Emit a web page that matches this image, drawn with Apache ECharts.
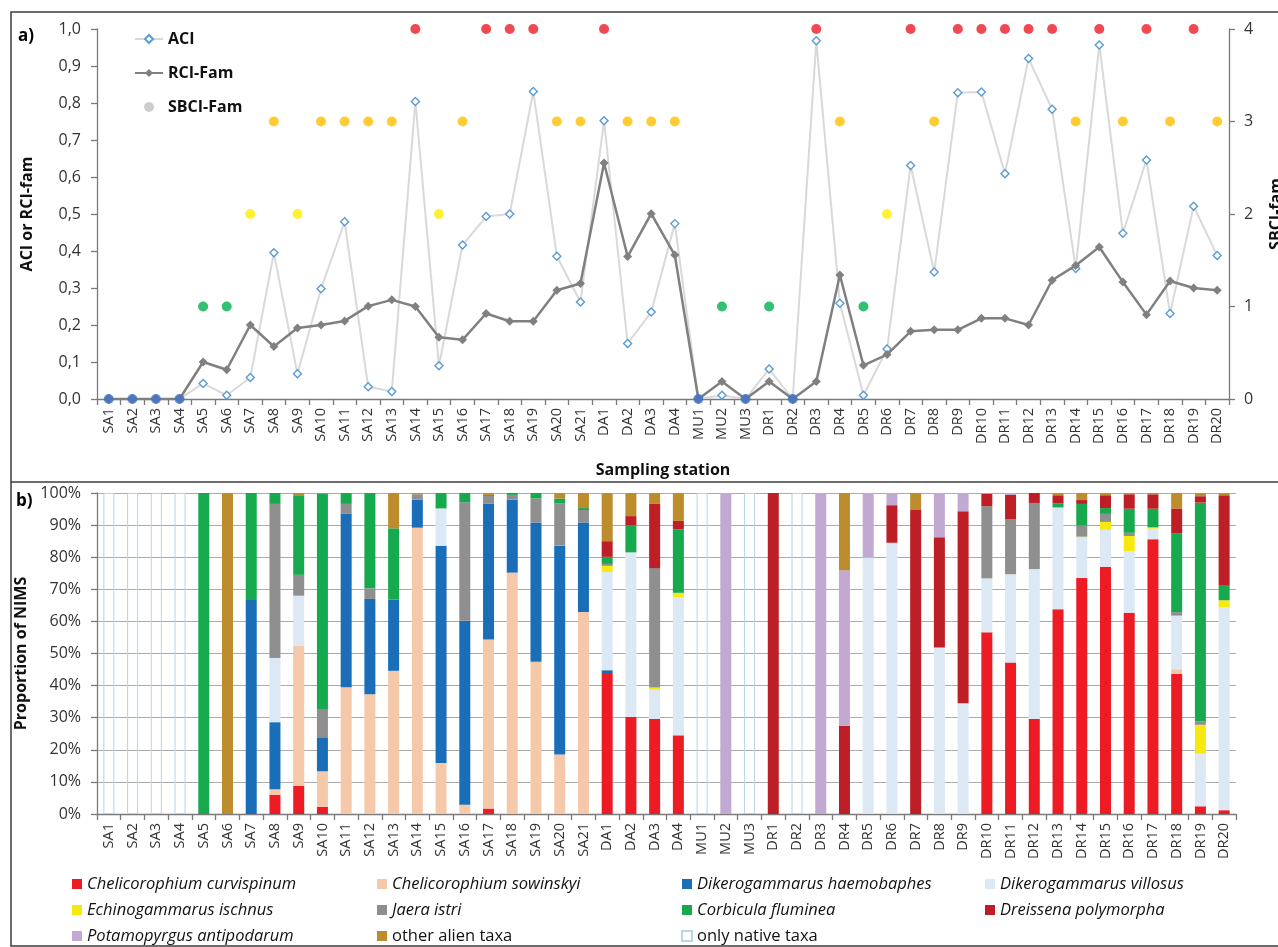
<!DOCTYPE html>
<html>
<head>
<meta charset="utf-8">
<script src="https://cdn.jsdelivr.net/npm/echarts@6/dist/echarts.min.js"></script>
<style>
  html, body { margin: 0; padding: 0; background: #fff; }
  #main { width: 1278px; height: 947px; }
</style>
</head>
<body>
<div id="main"></div>
<script>
var stations = ['SA1','SA2','SA3','SA4','SA5','SA6','SA7','SA8','SA9','SA10',
  'SA11','SA12','SA13','SA14','SA15','SA16','SA17','SA18','SA19','SA20',
  'SA21','DA1','DA2','DA3','DA4','MU1','MU2','MU3','DR1','DR2',
  'DR3','DR4','DR5','DR6','DR7','DR8','DR9','DR10','DR11','DR12',
  'DR13','DR14','DR15','DR16','DR17','DR18','DR19','DR20'];

// panel a)
var aci = [0,0,0,0,0.042,0.01,0.058,0.395,0.068,0.298,
  0.479,0.033,0.02,0.804,0.09,0.416,0.493,0.50,0.831,0.386,
  0.262,0.752,0.15,0.235,0.474,0,0.01,0,0.081,0,
  0.968,0.259,0.01,0.135,0.631,0.343,0.828,0.83,0.609,0.92,
  0.783,0.353,0.957,0.448,0.646,0.231,0.521,0.388];
var rciFam = [0,0,0,0,0.10,0.079,0.20,0.142,0.192,0.20,
  0.211,0.251,0.268,0.25,0.167,0.16,0.231,0.21,0.21,0.294,
  0.312,0.638,0.385,0.501,0.389,0,0.047,0,0.047,0,
  0.047,0.335,0.091,0.12,0.183,0.187,0.187,0.218,0.218,0.20,
  0.321,0.361,0.411,0.316,0.228,0.319,0.30,0.294];
var sbciFam = [0,0,0,0,1,1,2,3,2,3,
  3,3,3,4,2,3,4,4,4,3,
  3,4,3,3,3,0,1,0,1,0,
  4,3,1,2,4,3,4,4,4,4,
  4,3,4,3,4,3,4,3];
var sbciColors = ['#4472c4','#00b050','#ffee00','#ffc000','#ee1c25'];

// panel b) proportions (%)
var curvispinum = [0,0,0,0,0,0,0,6.0,8.8,2.2, 0,0,0,0,0,0,1.7,0,0,0,
  0,43.9,30.2,29.6,24.5, 0,0,0,0,0, 0,0,0,0,0, 0,0,56.6,47.2,29.6,
  63.8,73.5,77.0,62.7,85.6, 43.6,2.4,1.2];
var sowinskyi = [0,0,0,0,0,0,0,1.7,43.6,11.1, 39.5,37.3,44.6,89.2,15.9,2.9,52.7,75.2,47.4,18.5,
  62.9,0,0,0,0, 0,0,0,0,0, 0,0,0,0,0, 0,0,0,0,0,
  0,0,0,0,0, 1.5,0,0];
var haemobaphes = [0,0,0,0,0,0,66.7,20.9,0,10.6, 54.0,29.7,22.2,8.7,67.7,57.3,42.3,22.7,43.4,65.1,
  27.9,0.9,0,0,0, 0,0,0,0,0, 0,0,0,0,0, 0,0,0,0,0,
  0,0,0,0,0, 0,0,0];
var villosus = [0,0,0,0,0,0,0,20.0,15.6,0, 0,0,0,0,11.6,0,0,0,0,0,
  0,30.6,51.3,9.1,43.0, 0,0,0,0,0, 0,0,79.9,84.5,0, 51.9,34.5,16.8,27.5,46.7,
  31.7,12.6,11.5,19.1,3.3, 16.7,16.4,63.2];
var ischnus = [0,0,0,0,0,0,0,0,0,0, 0,0,0,0,0,0,0,0,0,0,
  0,1.9,0,0.7,1.4, 0,0,0,0,0, 0,0,0,0,0, 0,0,0,0,0,
  0,0.3,2.5,4.8,0.4, 0,9.0,2.2];
var jaera = [0,0,0,0,0,0,0,48.0,6.5,8.6, 3.1,3.3,0,1.7,0,36.9,2.4,1.5,7.5,13.1,
  3.9,0.6,0,37.2,0, 0,0,0,0,0, 0,0,0,0,0, 0,0,22.5,17.2,20.6,
  0,3.5,2.5,1.0,0, 1.1,1.1,0];
var corbicula = [0,0,0,0,100,0,33.3,3.4,24.8,67.2, 3.4,29.7,22.2,0,4.8,2.9,0.3,0.6,1.7,1.6,
  0.6,2.2,8.5,0,19.8, 0,0,0,0,0, 0,0,0,0,0, 0,0,0,0,0,
  1.3,6.7,1.8,7.5,5.8, 24.6,68.1,4.5];
var dreissena = [0,0,0,0,0,0,0,0,0,0, 0,0,0,0,0,0,0,0,0,0,
  0,4.9,2.8,20.0,2.6, 0,0,0,100,0, 0,27.5,0,11.7,94.7, 34.3,59.8,3.9,7.5,3.1,
  2.5,1.2,4.0,4.5,4.5, 7.7,2.0,28.2];
var potamopyrgus = [0,0,0,0,0,0,0,0,0,0, 0,0,0,0,0,0,0,0,0,0,
  0,0,0,0,0, 0,100,0,0,0, 100,48.4,20.1,3.8,0, 13.8,5.7,0.2,0.6,0,
  0,0,0,0,0, 0,0,0];
var otherAlien = [0,0,0,0,0,100,0,0,0.7,0.3, 0,0,11.0,0.4,0,0,0.6,0,0,1.7,
  4.7,15.0,7.2,3.4,8.7, 0,0,0,0,0, 0,24.1,0,0,5.3, 0,0,0,0,0,
  0.7,2.2,0.7,0.4,0.4, 4.8,1.0,0.7];
var onlyNative = [100,100,100,100,0,0,0,0,0,0, 0,0,0,0,0,0,0,0,0,0,
  0,0,0,0,0, 100,0,100,0,100, 0,0,0,0,0, 0,0,0,0,0,
  0,0,0,0,0, 0,0,0];

var taxa = [
  {name: 'Chelicorophium curvispinum', data: curvispinum, color: '#ed1c24'},
  {name: 'Chelicorophium sowinskyi', data: sowinskyi, color: '#f5c8aa'},
  {name: 'Dikerogammarus haemobaphes', data: haemobaphes, color: '#1a6eb8'},
  {name: 'Dikerogammarus villosus', data: villosus, color: '#dce8f3'},
  {name: 'Echinogammarus ischnus', data: ischnus, color: '#f5e90f'},
  {name: 'Jaera istri', data: jaera, color: '#8f8f8f'},
  {name: 'Corbicula fluminea', data: corbicula, color: '#17a94e'},
  {name: 'Dreissena polymorpha', data: dreissena, color: '#be1e26'},
  {name: 'Potamopyrgus antipodarum', data: potamopyrgus, color: '#c2a9d1'},
  {name: 'other alien taxa', data: otherAlien, color: '#bd8c2c'},
  {name: 'only native taxa', data: onlyNative, color: 'rgba(255,255,255,0)', border: '#b8d3ec'}
];

var myChart = echarts.init(document.getElementById('main'));

var FONT = 'Open Sans';
var axisLineStyle = {color: '#7a7a7a', width: 1.3};

var barSeries = taxa.map(function (t) {
  return {
    name: t.name,
    type: 'bar',
    stack: 'nims',
    xAxisIndex: 1,
    yAxisIndex: 2,
    barWidth: 11,
    itemStyle: {color: t.color, borderColor: t.border || t.color, borderWidth: t.border ? 1 : 0},
    data: t.data.map(function (v) { return v === 0 ? '-' : v; })
  };
});

// one legend block per column of the key under panel b)
function legendCol(left, names) {
  return {
    orient: 'vertical',
    left: left,
    top: 874,
    padding: 0,
    icon: 'rect',
    itemWidth: 10,
    itemHeight: 10,
    itemGap: 6,
    selectedMode: false,
    textStyle: {fontFamily: FONT, fontSize: 16.5, fontStyle: 'italic', color: '#111', lineHeight: 20},
    data: names.map(function (n) {
      return n.indexOf('taxa') >= 0 ? {name: n, textStyle: {fontStyle: 'normal'}} : n;
    })
  };
}

option = {
  animation: false,
  backgroundColor: '#fff',
  textStyle: {fontFamily: FONT},
  graphic: [
    {type: 'rect', shape: {x: 11, y: 12, width: 1300, height: 934},
     style: {fill: 'none', stroke: '#3c3c3c', lineWidth: 1.5}},
    {type: 'line', shape: {x1: 11, y1: 482, x2: 1278, y2: 482},
     style: {stroke: '#3c3c3c', lineWidth: 1.5}},
    {type: 'text', left: 18, top: 28,
     style: {text: 'a)', font: 'bold 17px "Open Sans"', fill: '#000'}},
    {type: 'text', left: 16, top: 493,
     style: {text: 'b)', font: 'bold 17px "Open Sans"', fill: '#000'}}
  ],
  legend: [
    {
      orient: 'vertical',
      left: 129,
      top: 24,
      itemWidth: 28,
      itemHeight: 10,
      itemGap: 14,
      selectedMode: false,
      textStyle: {fontFamily: FONT, fontSize: 16, fontWeight: 'bold', color: '#111', lineHeight: 20},
      data: ['ACI', 'RCI-Fam', 'SBCI-Fam']
    },
    legendCol(72, ['Chelicorophium curvispinum', 'Echinogammarus ischnus', 'Potamopyrgus antipodarum']),
    legendCol(377, ['Chelicorophium sowinskyi', 'Jaera istri', 'other alien taxa']),
    legendCol(681, ['Dikerogammarus haemobaphes', 'Corbicula fluminea', 'only native taxa']),
    legendCol(985, ['Dikerogammarus villosus', 'Dreissena polymorpha'])
  ],
  grid: [
    {left: 97, right: 49, top: 29, height: 370, outerBoundsMode: 'none'},
    {left: 97, right: 42, top: 493, height: 321, outerBoundsMode: 'none'}
  ],
  xAxis: [
    {
      type: 'category', gridIndex: 0, data: stations,
      name: 'Sampling station', nameLocation: 'middle', nameGap: 63,
      nameTextStyle: {fontSize: 16, fontWeight: 'bold', color: '#111'},
      axisLine: {lineStyle: axisLineStyle},
      axisTick: {show: true, interval: 0, length: 6, lineStyle: axisLineStyle},
      axisLabel: {interval: 0, rotate: 90, fontSize: 14.5, color: '#333', margin: 9}
    },
    {
      type: 'category', gridIndex: 1, data: stations,
      axisLine: {lineStyle: axisLineStyle},
      axisTick: {show: true, interval: 0, length: 6, lineStyle: axisLineStyle},
      axisLabel: {interval: 0, rotate: 90, fontSize: 14.5, color: '#333', margin: 9}
    }
  ],
  yAxis: [
    {
      type: 'value', gridIndex: 0, min: 0, max: 1, interval: 0.1,
      name: 'ACI or RCI-fam', nameLocation: 'middle', nameGap: 62,
      nameTextStyle: {fontSize: 16, fontWeight: 'bold', color: '#111'},
      axisLine: {show: true, lineStyle: axisLineStyle},
      axisTick: {show: true, length: 6, lineStyle: axisLineStyle},
      splitLine: {show: false},
      axisLabel: {fontSize: 16, color: '#333', margin: 16,
        formatter: function (v) { return v.toFixed(1).replace('.', ','); }}
    },
    {
      type: 'value', gridIndex: 0, position: 'right', min: 0, max: 4, interval: 1,
      name: 'SBCI-fam', nameLocation: 'middle', nameGap: 39,
      nameTextStyle: {fontSize: 16, fontWeight: 'bold', color: '#111'},
      axisLine: {show: true, lineStyle: axisLineStyle},
      axisTick: {show: true, length: 6, lineStyle: axisLineStyle},
      splitLine: {show: false},
      axisLabel: {fontSize: 16, color: '#333', margin: 15}
    },
    {
      type: 'value', gridIndex: 1, min: 0, max: 100, interval: 10,
      name: 'Proportion of NIMS', nameLocation: 'middle', nameGap: 62,
      nameTextStyle: {fontSize: 16, fontWeight: 'bold', color: '#111'},
      axisLine: {show: true, lineStyle: axisLineStyle},
      axisTick: {show: true, length: 6, lineStyle: axisLineStyle},
      splitLine: {show: true, lineStyle: {color: '#ababab', width: 1}},
      axisLabel: {fontSize: 16, color: '#333', margin: 16, formatter: '{value}%'}
    }
  ],
  series: [
    {
      name: 'ACI', type: 'line', xAxisIndex: 0, yAxisIndex: 0,
      data: aci,
      symbol: 'diamond', symbolSize: 8,
      lineStyle: {color: '#d9d9d9', width: 2},
      itemStyle: {color: '#ffffff', borderColor: '#5b9bd5', borderWidth: 1.4},
      z: 2
    },
    {
      name: 'RCI-Fam', type: 'line', xAxisIndex: 0, yAxisIndex: 0,
      data: rciFam,
      symbol: 'diamond', symbolSize: 9,
      lineStyle: {color: '#808080', width: 2.5},
      itemStyle: {color: '#808080'},
      z: 3
    },
    {
      name: 'SBCI-Fam', type: 'scatter', xAxisIndex: 0, yAxisIndex: 1,
      symbol: 'circle', symbolSize: 10,
      itemStyle: {color: '#c0c0c0'},
      data: sbciFam.map(function (v) {
        return {value: v, itemStyle: {color: sbciColors[v]}};
      }),
      z: 4
    }
  ].concat(barSeries)
};

myChart.setOption(option);
</script>
</body>
</html>
